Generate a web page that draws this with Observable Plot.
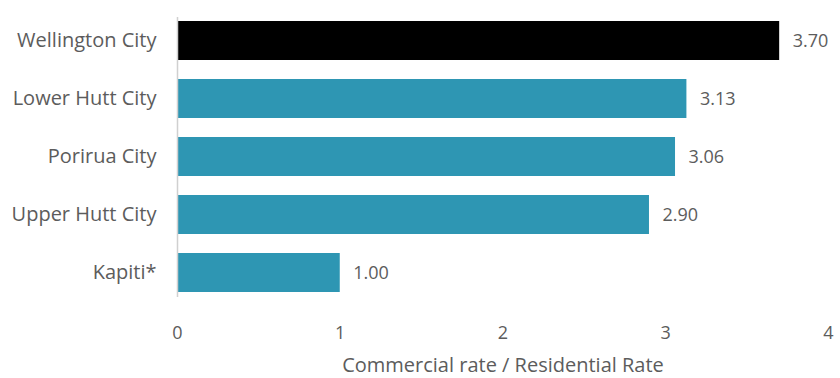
<!DOCTYPE html>
<html>
<head>
<meta charset="utf-8">
<script src="https://cdn.jsdelivr.net/npm/d3@7"></script>
<script src="https://cdn.jsdelivr.net/npm/@observablehq/plot@0.6"></script>
<style>
  html, body { margin: 0; padding: 0; background: #fff; }
</style>
</head>
<body>
<div id="chart"></div>
<script>
const categories = ["Wellington City", "Lower Hutt City", "Porirua City", "Upper Hutt City", "Kapiti*"];
const values = [3.70, 3.13, 3.06, 2.90, 1.00];
const highlight = "Wellington City";
const xTicks = [0, 1, 2, 3, 4];
const xLabel = "Commercial rate / Residential Rate";

const data = categories.map((c, i) => ({category: c, value: values[i]}));

const textColor = "#5c5c5c";

const chart = Plot.plot({
  width: 840,
  height: 378,
  marginLeft: 177,
  marginRight: 12,
  marginTop: 17,
  marginBottom: 81,
  style: {fontFamily: "'Open Sans', sans-serif", fontSize: "18px", color: textColor, background: "#fff"},
  x: {domain: [0, 4]},
  y: {domain: categories, paddingInner: 0.32, paddingOuter: 0.045},
  marks: [
    Plot.barX(data, {x: "value", y: "category", fill: d => d.category === highlight ? "#000000" : "#2E96B3"}),
    Plot.ruleX([0], {stroke: "#d0d0d0", strokeWidth: 1.5}),
    Plot.text(data, {x: "value", y: "category", text: d => d.value.toFixed(2), textAnchor: "start", dx: 13, fill: textColor, fontSize: 18}),
    Plot.axisY({tickSize: 0, tickPadding: 21, label: null, fontSize: 20, fill: textColor}),
    Plot.axisX({ticks: xTicks, tickSize: 0, tickPadding: 29, tickFormat: d3.format("d"), label: null, fontSize: 18, fill: textColor}),
    Plot.text([xLabel], {frameAnchor: "bottom", dy: 68, text: d => d, fontSize: 20, fill: textColor, lineAnchor: "middle"})
  ]
});
document.getElementById("chart").appendChild(chart);
</script>
</body>
</html>
